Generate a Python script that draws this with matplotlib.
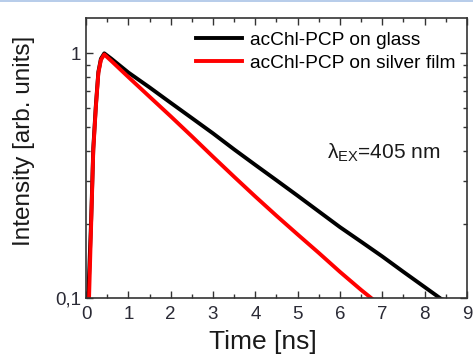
import numpy as np
import matplotlib
matplotlib.use('Agg')
import matplotlib.pyplot as plt
from matplotlib.ticker import FixedLocator, FixedFormatter, NullFormatter
from matplotlib.lines import Line2D

plt.rcParams['font.family'] = ['Liberation Sans', 'DejaVu Sans']
plt.rcParams['mathtext.fontset'] = 'custom'
plt.rcParams['mathtext.rm'] = 'Liberation Sans'
plt.rcParams['mathtext.it'] = 'Liberation Sans'

# decay curves (time in ns, intensity normalised)
t_glass = [0.05, 0.12, 0.17, 0.23, 0.29, 0.35, 0.43, 0.6, 1.0, 1.5, 2.0, 2.5, 3.0,
           3.5, 4.0, 4.5, 5.0, 5.5, 6.0, 6.5, 7.0, 7.5, 8.0, 8.4, 8.7]
i_glass = [0.10, 0.21, 0.41, 0.61, 0.84, 0.95, 1.0, 0.95, 0.835, 0.726, 0.628, 0.544, 0.471,
           0.405, 0.350, 0.303, 0.262, 0.226, 0.195, 0.170, 0.148, 0.128, 0.111, 0.099, 0.096]

t_silver = [0.07, 0.12, 0.17, 0.23, 0.29, 0.35, 0.43, 0.6, 1.0, 1.5, 2.0, 2.5, 3.0,
            3.5, 4.0, 4.5, 5.0, 5.5, 6.0, 6.5, 6.9]
i_silver = [0.10, 0.20, 0.40, 0.60, 0.83, 0.94, 0.99, 0.93, 0.80, 0.665, 0.553, 0.458, 0.378,
            0.313, 0.260, 0.217, 0.182, 0.153, 0.128, 0.108, 0.095]

labels = ['acChl-PCP on glass', 'acChl-PCP on silver film']

fig = plt.figure(figsize=(4.73, 3.6), dpi=100)
ax = fig.add_axes([0.182, 0.172, 0.805, 0.777])

ax.plot(t_glass, i_glass, color='black', lw=2.8, label=labels[0])
ax.plot(t_silver, i_silver, color='red', lw=2.8, label=labels[1])

ax.set_yscale('log')
ax.set_xlim(0, 9)
ax.set_ylim(0.1, 1.39)

ax.xaxis.set_major_locator(FixedLocator(range(10)))
ax.xaxis.set_minor_locator(FixedLocator(np.arange(0.5, 9, 1.0)))
ax.yaxis.set_major_locator(FixedLocator([0.1, 1]))
ax.yaxis.set_major_formatter(FixedFormatter(['0,1', '1']))
ax.yaxis.set_minor_locator(FixedLocator([0.2, 0.3, 0.4, 0.5, 0.6, 0.7, 0.8, 0.9]))
ax.yaxis.set_minor_formatter(NullFormatter())

ax.tick_params(which='both', direction='in', top=True, right=True,
               color='#333333', labelsize=13.5, labelcolor='#2a2a35', width=1)
ax.tick_params(which='major', length=5)
ax.tick_params(axis='x', which='major', pad=6)
ax.tick_params(which='minor', length=3)
for s in ax.spines.values():
    s.set_color('#333333')
    s.set_linewidth(1.2)

ax.set_xlabel('Time [ns]', fontsize=19, color='#1a1a1a')
ax.xaxis.set_label_coords(0.463, -0.115)
ax.set_ylabel('Intensity [arb. units]', fontsize=17.5, color='#1a1a1a')
ax.yaxis.set_label_coords(-0.135, 0.562)

ax.legend(loc='upper right', frameon=False, fontsize=13.8, handlelength=2.4,
          handletextpad=0.4, borderaxespad=0.2, labelspacing=0.3,
          bbox_to_anchor=(1.0, 0.995))
ax.text(0.633, 0.5, 'λ$_{\\rm EX}$=405 nm', transform=ax.transAxes,
        fontsize=15, color='#1a1a1a')

fig.add_artist(Line2D([0, 1], [0.997, 0.997], color='#aac4e6', lw=1.2))

fig.savefig('out.png', dpi=100)
